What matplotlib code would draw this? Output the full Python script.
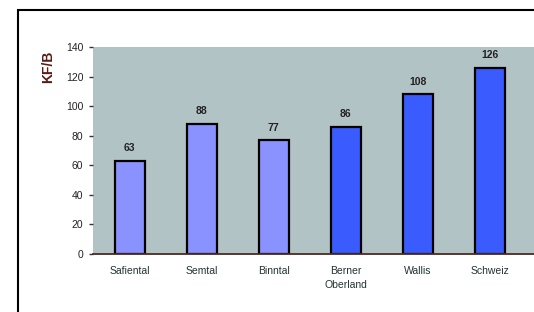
import matplotlib
matplotlib.use("Agg")
import matplotlib.pyplot as plt
from matplotlib.patches import Rectangle

categories = ["Safiental", "Semtal", "Binntal", "Berner\nOberland", "Wallis", "Schweiz"]
values = [63, 88, 77, 86, 108, 126]
group = ["light", "light", "light", "dark", "dark", "dark"]
yticks = [0, 20, 40, 60, 80, 100, 120, 140]

colors = {"light": "#8a92ff", "dark": "#3a5cff"}

plt.rcParams['font.family'] = ['Liberation Sans', 'DejaVu Sans']

fig = plt.figure(figsize=(5.34, 3.12), dpi=100)

# outer frame (cropped on right/bottom in the original)
fig.patches.append(Rectangle((18 / 534, -0.1), 1.2, 1 - 10 / 312 + 0.1,
                             transform=fig.transFigure, fill=False,
                             edgecolor="black", linewidth=1.5, zorder=0))

ax = fig.add_axes([93 / 534, 58 / 312, (534 - 93) / 534, 207 / 312])
ax.set_facecolor("#b2c3c6")

x = list(range(len(categories)))
bars = ax.bar(x, values, width=0.42, color=[colors[g] for g in group],
              edgecolor="black", linewidth=1.6, zorder=2)

for xi, v in zip(x, values):
    ax.text(xi, v + 5, str(v), ha="center", va="bottom", fontsize=7.5,
            fontweight="bold", color="#222222")

ax.set_xlim(-0.51, 5.61)
ax.set_ylim(0, 140)
ax.set_yticks(yticks)
ax.set_yticklabels([str(t) for t in yticks], fontsize=7.5, color="#222222")
ax.tick_params(axis="y", length=3, width=1, color="#333333", pad=4)
ax.set_xticks(x)
ax.set_xticklabels(categories, fontsize=7.5, color="#223333", va="top",
                   linespacing=1.5)
ax.tick_params(axis="x", length=0, pad=9)

for s in ["top", "right", "left"]:
    ax.spines[s].set_visible(False)
ax.spines["bottom"].set_color("#4a2a22")
ax.spines["bottom"].set_linewidth(1.3)

fig.text(48 / 534, 1 - 67 / 312, "KF/B", rotation=90, ha="center", va="center",
         fontsize=10, fontweight="bold", color="#5a1a14")

fig.savefig("out.png", dpi=100)
